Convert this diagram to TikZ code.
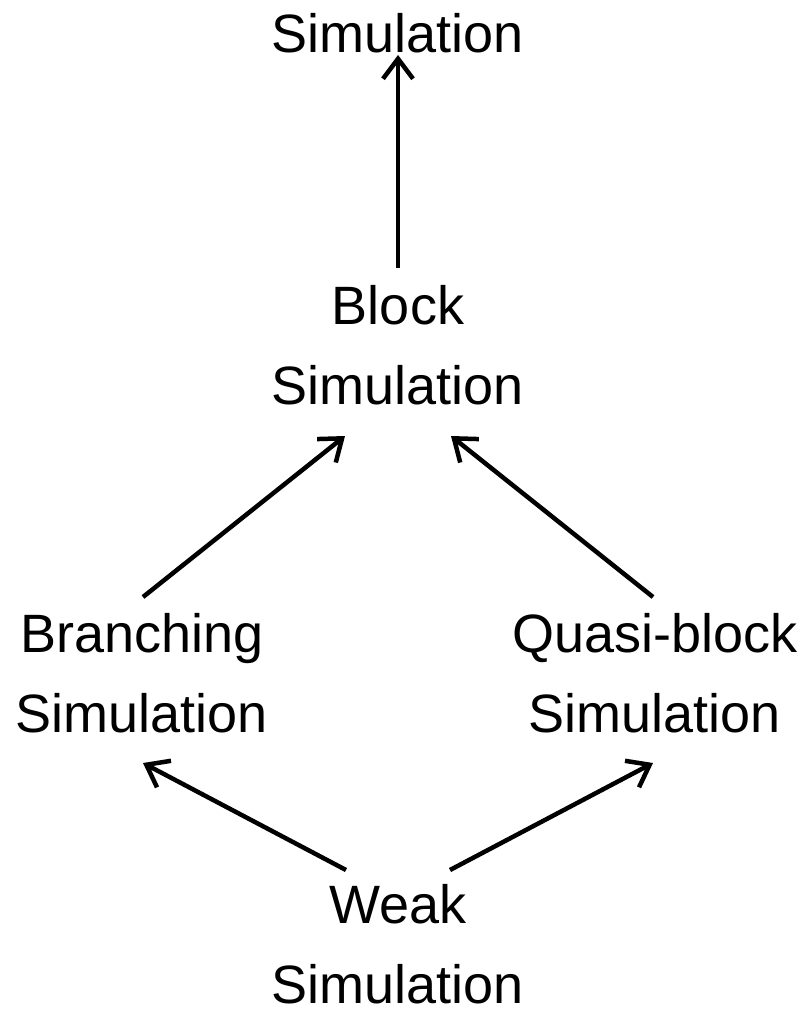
\documentclass[tikz,border=0pt]{standalone}
\usepackage{fontspec}
\setmainfont{Liberation Sans}
\usetikzlibrary{arrows.meta}
\begin{document}
\begin{tikzpicture}[x=1pt,y=1pt,
  lbl/.style={align=center,font=\fontsize{54}{80}\selectfont,inner sep=0pt,anchor=base},
  arr/.style={line width=4.5pt,-{Straight Barb[length=20pt,width=30pt]}}]
\useasboundingbox (0,0) rectangle (804,-1011);
\node[lbl] (sim) at (398,-53) {Simulation};
\node[lbl] (block) at (398,-404) {Block\\Simulation};
\node[lbl] (branch) at (142,-732) {Branching\\Simulation};
\node[lbl] (quasi) at (655,-732) {Quasi-block\\Simulation};
\node[lbl] (weak) at (398,-1003) {Weak\\Simulation};
\coordinate (a1s) at (398,-268);
\coordinate (a1e) at (398,-55);
\coordinate (a2s) at (143,-597);
\coordinate (a2e) at (345,-436);
\coordinate (a3s) at (653,-597);
\coordinate (a3e) at (451,-436);
\coordinate (a4s) at (346,-870);
\coordinate (a4e) at (143,-763);
\coordinate (a5s) at (450,-870);
\coordinate (a5e) at (653,-763);
\draw[arr] (a1s) -- (a1e);
\draw[arr] (a2s) -- (a2e);
\draw[arr] (a3s) -- (a3e);
\draw[arr] (a4s) -- (a4e);
\draw[arr] (a5s) -- (a5e);
\end{tikzpicture}
\end{document}
